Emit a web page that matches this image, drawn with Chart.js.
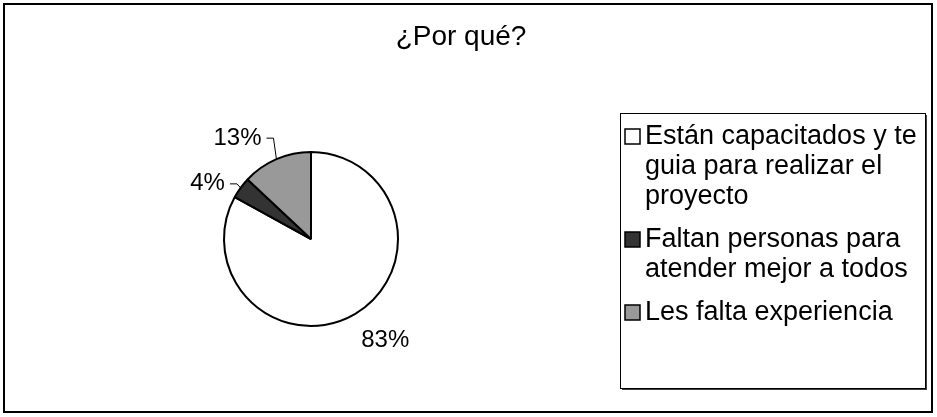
<!DOCTYPE html>
<html lang="es">
<head>
<meta charset="UTF-8">
<title>¿Por qué?</title>
<script src="https://cdn.jsdelivr.net/npm/chart.js"></script>
<style>
  body { margin: 0; background: #fff; }
  canvas { display: block; }
</style>
</head>
<body>
<canvas id="pie" width="937" height="417"></canvas>
<script>
// data
const chartTitle = '¿Por qué?';
const categories = [
  'Están capacitados y te guia para realizar el proyecto',
  'Faltan personas para atender mejor a todos',
  'Les falta experiencia'
];
const legendLines = [
  ['Están capacitados y te', 'guia para realizar el', 'proyecto'],
  ['Faltan personas para', 'atender mejor a todos'],
  ['Les falta experiencia']
];
const percents = [83, 4, 13];

const fills = ['#ffffff', '#333333', '#999999'];
const FONT = '"Liberation Sans", Arial, sans-serif';

// frame, title and the boxed legend on the right
const framePlugin = {
  id: 'frame',
  afterDraw(chart) {
    const c = chart.ctx;
    c.save();
    c.strokeStyle = '#000';
    c.lineWidth = 2;
    c.strokeRect(4, 4, 928, 408);

    c.fillStyle = '#000';
    c.font = '28px ' + FONT;
    c.textAlign = 'center';
    c.textBaseline = 'middle';
    c.fillText(chartTitle, 461, 37);

    // legend box
    const bx = 620, by = 113, bw = 305, bh = 275;
    c.fillStyle = '#404040';
    c.fillRect(bx + 2, by + bh + 1, bw, 1);
    c.fillRect(bx + bw + 1, by + 2, 1, bh);
    c.strokeStyle = '#000';
    c.lineWidth = 1;
    c.strokeRect(bx + 0.5, by + 0.5, bw, bh);

    c.font = '27px ' + FONT;
    c.textAlign = 'left';
    let y = 137;
    legendLines.forEach((lines, i) => {
      c.fillStyle = fills[i];
      c.fillRect(625, y - 8, 15, 15);
      c.strokeStyle = '#000';
      c.lineWidth = 1.5;
      c.strokeRect(625, y - 8, 15, 15);
      c.fillStyle = '#000';
      lines.forEach((t, j) => c.fillText(t, 645, y + j * 30));
      y += lines.length * 30 + 13;
    });
    c.restore();
  }
};

// percentage labels with leader lines, placed like the original
const labelPlugin = {
  id: 'pctLabels',
  afterDatasetsDraw(chart, args, opts) {
    const c = chart.ctx;
    const arcs = chart.getDatasetMeta(0).data;
    c.save();
    c.font = '24px ' + FONT;
    c.textBaseline = 'middle';
    c.textAlign = 'center';
    arcs.forEach((arc, i) => {
      const p = arc.getProps(['x', 'y', 'startAngle', 'endAngle', 'outerRadius']);
      const mid = (p.startAngle + p.endAngle) / 2;
      const ex = p.x + Math.cos(mid) * p.outerRadius;
      const ey = p.y + Math.sin(mid) * p.outerRadius;
      const [dx, dy] = opts.offsets[i];
      const tx = ex + dx, ty = ey + dy;
      const text = percents[i] + '%';
      c.fillStyle = '#000';
      c.fillText(text, tx, ty);
      if (opts.leader[i]) {
        const right = tx + c.measureText(text).width / 2;
        c.strokeStyle = '#000';
        c.lineWidth = 1;
        c.beginPath();
        c.moveTo(ex, ey);
        c.lineTo(right + 12, ty);
        c.lineTo(right + 5, ty);
        c.stroke();
      }
    });
    c.restore();
  }
};

new Chart(document.getElementById('pie'), {
  type: 'pie',
  data: {
    labels: categories,
    datasets: [{
      data: percents,
      backgroundColor: fills,
      borderColor: '#000',
      borderWidth: 2,
      hoverBorderWidth: 2,
      hoverOffset: 0
    }]
  },
  options: {
    responsive: false,
    animation: false,
    events: [],
    layout: { padding: { left: 223, right: 538, top: 151, bottom: 90 } },
    plugins: {
      legend: { display: false },
      tooltip: { enabled: false },
      title: { display: false },
      pctLabels: {
        offsets: [[30, 26], [-33, -4], [-39, -21]],
        leader: [false, true, true]
      }
    }
  },
  plugins: [labelPlugin, framePlugin]
});
</script>
</body>
</html>
